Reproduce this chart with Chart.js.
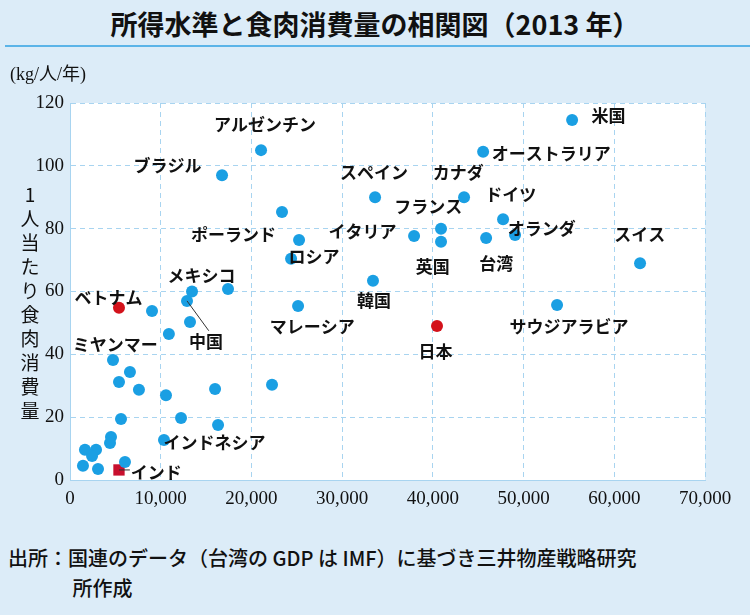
<!DOCTYPE html>
<html><head><meta charset="utf-8">
<script src="https://cdn.jsdelivr.net/npm/chart.js@4"></script>
<style>
body{margin:0;background:#dcecf8;width:750px;height:615px;overflow:hidden;font-family:"Noto Sans CJK JP",sans-serif}
#title{position:absolute;left:0;top:4px;width:750px;text-align:center;font-size:27px;font-weight:bold;color:#111}
#rule{position:absolute;left:5px;top:45px;width:745px;height:2px;background:#5bb4e8}
#wrap{position:absolute;left:0;top:50px;width:750px;height:490px}
#src{position:absolute;left:8px;top:543px;font-size:20px;font-weight:500;color:#111;line-height:30px}
</style></head><body>
<div id="title">所得水準と食肉消費量の相関図（2013 年）</div>
<div id="rule"></div>
<div id="wrap"><canvas id="c"></canvas></div>
<div id="src">出所：国連のデータ（台湾の GDP は IMF）に基づき三井物産戦略研究<br>&emsp;&emsp;&emsp;&nbsp;所作成</div>
<script>
const gdp = [55350,45540,21060,16760,43440,33630,47740,49060,62840,53690,40900,37930,40900,45870,33400,25250,24370,23370,25140,17420,12900,13450,13230,9040,10900,4740,6610,5400,7600,10580,15990,22270,5620,12240,16320,10360,4520,4410,1650,2870,2430,3090,1430,6060];
const meat = [114.6,104.5,105,97,90,90,83,78,69,55.7,80,77.7,75.8,77,63.4,76.4,70.4,85.3,55.4,60.8,57,60,50.3,53.8,46.5,38.2,34.4,31.2,28.7,27,29,30.3,19.4,19.7,17.5,12.7,13.7,11.8,9.6,9.6,7.6,3.5,4.5,5.7];
const japan = [[40460,49]];
const vietnam = [[5400,54.8]];
const india = [[5400,3.2]];
// name, label anchor x (gdp), y (meat), align
const labels = [
 ['米国',57500,116,'left'],['オーストラリア',46500,104,'left'],['アルゼンチン',21500,113,'center'],
 ['ブラジル',14500,100,'right'],['カナダ',42800,98,'center'],['スペイン',33500,98,'center'],
 ['ドイツ',48600,91,'center'],['オランダ',52000,80,'center'],['スイス',62800,78,'center'],
 ['サウジアラビア',55000,49,'center'],['フランス',39500,87,'center'],['イタリア',36000,79,'right'],
 ['英国',40000,68,'center'],['台湾',47000,69,'center'],['韓国',33500,57,'center'],
 ['ポーランド',22700,78,'right'],['ロシア',26900,71,'center'],['マレーシア',26700,49,'center'],
 ['メキシコ',14500,65,'center'],['中国',15000,44,'center'],['ベトナム',500,58,'left'],
 ['ミヤンマー',300,43,'left'],['日本',40300,41,'center'],['インドネシア',10300,12,'left'],['インド',6700,2.5,'left']
];
const leaders = [[[12900,57],[15300,47.5]],[[5400,3.2],[6600,3.2]]];

const ann = {
  id:'ann',
  afterDatasetsDraw(ch){
    const {ctx,scales:{x,y}}=ch;
    ctx.save();
    ctx.strokeStyle='#333';ctx.lineWidth=1;
    leaders.forEach(l=>{ctx.beginPath();ctx.moveTo(x.getPixelForValue(l[0][0]),y.getPixelForValue(l[0][1]));ctx.lineTo(x.getPixelForValue(l[1][0]),y.getPixelForValue(l[1][1]));ctx.stroke();});
    ctx.fillStyle='#111';ctx.font='bold 17px "Noto Sans CJK JP"';ctx.textBaseline='middle';
    labels.forEach(l=>{ctx.textAlign=l[3];ctx.fillText(l[0],x.getPixelForValue(l[1]),y.getPixelForValue(l[2]));});
    ctx.font='18px "Liberation Serif","Noto Sans CJK JP"';ctx.textAlign='left';
    ctx.fillText('(kg/人/年)',10,y.top-28);
    ctx.textAlign='right';ctx.fillText('(ドル)',x.right+12,x.bottom+45);
    ctx.textAlign='center';ctx.fillText('1人当たり実質GDP(PPPベース、2016年価格)',(x.left+x.right)/2-40,x.bottom+45);
    ctx.font='19px "Noto Sans CJK JP"';
    const t='1人当たり食肉消費量';
    for(let i=0;i<t.length;i++) ctx.fillText(t[i],30,y.top+92+i*24);
    ctx.restore();
  },
  beforeDraw(ch){
    const {ctx,chartArea:a}=ch;ctx.save();ctx.fillStyle='#fff';ctx.fillRect(a.left,a.top,a.right-a.left,a.bottom-a.top);ctx.restore();
  }
};
const pts=(xs,ys)=>xs.map((v,i)=>({x:v,y:ys[i]}));
new Chart(document.getElementById('c'),{
  type:'scatter',
  data:{datasets:[
    {data:pts(gdp,meat),backgroundColor:'#1a9fe3',pointRadius:6,borderWidth:0},
    {data:japan.map(p=>({x:p[0],y:p[1]})),backgroundColor:'#d3121b',pointRadius:6,borderWidth:0},
    {data:vietnam.map(p=>({x:p[0],y:p[1]})),backgroundColor:'#d3121b',pointRadius:6,borderWidth:0},
    {data:india.map(p=>({x:p[0],y:p[1]})),backgroundColor:'#c8102e',pointStyle:'rect',pointRadius:8,borderWidth:0}
  ]},
  options:{
    responsive:true,maintainAspectRatio:false,animation:false,
    layout:{padding:{left:0,right:45,top:53,bottom:0}},
    plugins:{legend:{display:false},tooltip:{enabled:false}},
    scales:{
      x:{type:'linear',min:0,max:70000,
        ticks:{stepSize:10000,color:'#111',padding:8,font:{family:'Liberation Serif',size:19},callback:v=>v.toLocaleString('en-US')},
        grid:{color:'#a8d4f0',drawTicks:false},border:{display:true,color:'#a8d4f0',dash:[5,4]},
        afterFit:s=>{s.height=60;}},
      y:{min:0,max:120,
        ticks:{stepSize:20,color:'#111',font:{family:'Liberation Serif',size:19},padding:6},
        grid:{color:'#a8d4f0',drawTicks:false},border:{color:'#a8d4f0',dash:[5,4]},
        afterFit:s=>{s.width=70;}}
    }
  },
  plugins:[ann]
});
</script>
</body></html>
